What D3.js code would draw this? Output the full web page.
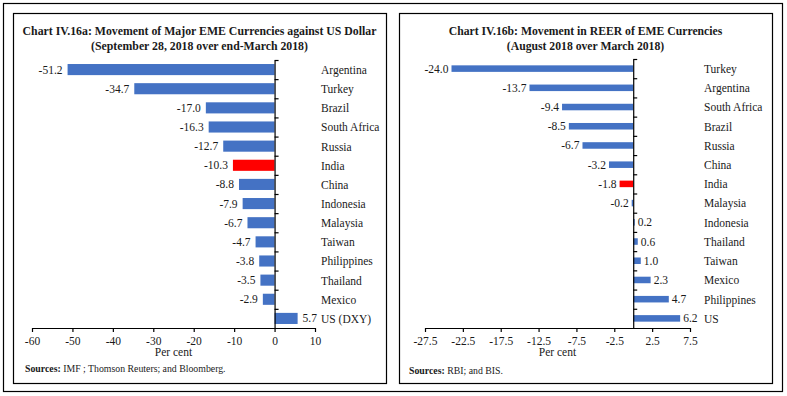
<!DOCTYPE html>
<html>
<head>
<meta charset="utf-8">
<script src="https://cdn.jsdelivr.net/npm/d3@7"></script>
<style>
  html, body { margin: 0; padding: 0; background: #fff; }
  svg { display: block; }
  text { font-family: "Liberation Serif", "DejaVu Serif", serif; fill: #1a1a1a; }
</style>
</head>
<body>
<svg id="chart" width="787" height="396"></svg>
<script>
// ---- Data ----
const catsA = ["Argentina", "Turkey", "Brazil", "South Africa", "Russia", "India", "China",
               "Indonesia", "Malaysia", "Taiwan", "Philippines", "Thailand", "Mexico", "US (DXY)"];
const valsA = [-51.2, -34.7, -17.0, -16.3, -12.7, -10.3, -8.8, -7.9, -6.7, -4.7, -3.8, -3.5, -2.9, 5.7];
const ticksA = [-60, -50, -40, -30, -20, -10, 0, 10];

const catsB = ["Turkey", "Argentina", "South Africa", "Brazil", "Russia", "China", "India",
               "Malaysia", "Indonesia", "Thailand", "Taiwan", "Mexico", "Philippines", "US"];
const valsB = [-24.0, -13.7, -9.4, -8.5, -6.7, -3.2, -1.8, -0.2, 0.2, 0.6, 1.0, 2.3, 4.7, 6.2];
const ticksB = [-27.5, -22.5, -17.5, -12.5, -7.5, -2.5, 2.5, 7.5];

const titleA = ["Chart IV.16a: Movement of Major EME Currencies against US Dollar",
                "(September 28, 2018 over end-March 2018)"];
const titleB = ["Chart IV.16b: Movement in REER of EME Currencies",
                "(August 2018 over March 2018)"];
const sourceA = ["Sources:", " IMF ; Thomson Reuters; and Bloomberg."];
const sourceB = ["Sources:", " RBI; and BIS."];
const highlight = "India";

const BLUE = "#4472C4", RED = "#FF0000";

const svg = d3.select("#chart");

// Frames
svg.append("rect").attr("x", 3.5).attr("y", 3.5).attr("width", 779).attr("height", 388)
  .attr("fill", "none").attr("stroke", "#000").attr("stroke-width", 1.2);

function panel(opt) {
  const g = svg.append("g");
  g.append("rect").attr("x", opt.box[0] + 0.5).attr("y", 13.5)
    .attr("width", opt.box[1] - opt.box[0]).attr("height", 370)
    .attr("fill", "none").attr("stroke", "#000").attr("stroke-width", 1.2);

  const cx = (opt.box[0] + opt.box[1]) / 2;
  g.append("text").attr("x", cx).attr("y", 35).attr("text-anchor", "middle")
    .attr("font-weight", "bold").attr("font-size", opt.titleSize).text(opt.title[0]);
  g.append("text").attr("x", cx).attr("y", 50).attr("text-anchor", "middle")
    .attr("font-weight", "bold").attr("font-size", opt.titleSize).text(opt.title[1]);

  const x = d3.scaleLinear().domain(opt.domain).range(opt.xRange);
  const top = opt.top, bottom = 328;
  const y = d3.scaleBand().domain(opt.cats).range([top, bottom]).paddingInner(opt.pad).paddingOuter(opt.pad / 2);
  const yIdx = d3.scaleLinear().domain([0, opt.cats.length]).range([top, bottom]);

  // bars
  g.selectAll("rect.bar").data(opt.vals).enter().append("rect")
    .attr("class", "bar")
    .attr("x", d => x(Math.min(0, d)))
    .attr("y", (d, i) => y(opt.cats[i]))
    .attr("width", d => Math.abs(x(d) - x(0)))
    .attr("height", y.bandwidth())
    .attr("fill", (d, i) => opt.cats[i] === highlight ? RED : BLUE);

  // value labels
  g.selectAll("text.val").data(opt.vals).enter().append("text")
    .attr("class", "val")
    .attr("x", d => d < 0 ? x(d) - opt.gap : x(d) + opt.gap)
    .attr("y", (d, i) => y(opt.cats[i]) + y.bandwidth() / 2)
    .attr("dy", "0.35em")
    .attr("text-anchor", d => d < 0 ? "end" : "start")
    .attr("font-size", 11.5)
    .text(d => d.toFixed(1));

  // category labels
  g.selectAll("text.cat").data(opt.cats).enter().append("text")
    .attr("class", "cat")
    .attr("x", opt.catX)
    .attr("y", d => y(d) + y.bandwidth() / 2)
    .attr("dy", "0.38em")
    .attr("font-size", 11.5)
    .text(d => d);

  // x axis
  const xa = g.append("g").attr("transform", `translate(0,${bottom})`)
    .call(d3.axisBottom(x).tickValues(opt.ticks).tickSize(4).tickSizeOuter(0).tickFormat(d => d));
  xa.select(".domain").attr("stroke", "#000").attr("stroke-width", 1.2);
  xa.selectAll(".tick line").attr("stroke", "#000").attr("stroke-width", 1.2);
  xa.selectAll(".tick text").attr("font-family", "Liberation Serif, serif").attr("font-size", 11.5)
    .attr("fill", "#1a1a1a").attr("dy", "0.9em");

  // y axis (zero line) with ticks at category boundaries
  const ya = g.append("g").attr("transform", `translate(${x(0)},0)`)
    .call(d3.axisRight(yIdx).tickValues(d3.range(0, opt.cats.length)).tickSize(4).tickSizeOuter(0).tickFormat(""));
  ya.select(".domain").attr("stroke", "#000").attr("stroke-width", 1.2);
  ya.selectAll(".tick line").attr("stroke", "#000").attr("stroke-width", 1.2);

  g.append("text").attr("x", (opt.xRange[0] + opt.xRange[1]) / 2).attr("y", 356)
    .attr("text-anchor", "middle").attr("font-size", 11.5).text("Per cent");

  const s = g.append("text").attr("x", opt.srcX).attr("y", opt.srcY).attr("font-size", 9.8);
  s.append("tspan").attr("font-weight", "bold").text(opt.source[0]);
  s.append("tspan").text(opt.source[1]);
}

panel({
  box: [13, 386], title: titleA, titleSize: 11.8, domain: [-60, 10], xRange: [32, 315],
  cats: catsA, vals: valsA, ticks: ticksA, top: 60, pad: 0.42, gap: 5, catX: 321,
  source: sourceA, srcX: 25, srcY: 372
});
panel({
  box: [399, 772], title: titleB, titleSize: 11.7, domain: [-27.5, 7.5], xRange: [425, 690],
  cats: catsB, vals: valsB, ticks: ticksB, top: 59, pad: 0.66, gap: 3, catX: 704,
  source: sourceB, srcX: 409, srcY: 374
});
</script>
</body>
</html>
